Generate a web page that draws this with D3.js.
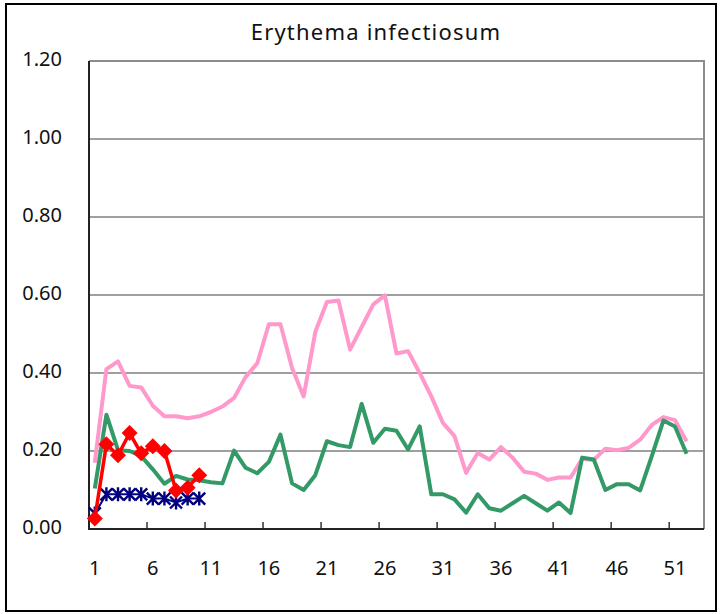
<!DOCTYPE html>
<html>
<head>
<meta charset="utf-8">
<script src="https://cdn.jsdelivr.net/npm/d3@7"></script>
<style>
  body { margin: 0; background: #fff; }
  svg { display: block; font-family: "Noto Sans", "DejaVu Sans", sans-serif; }
</style>
</head>
<body>
<div id="root"></div>
<script>
// weeks 1..53 on the category axis
const weeks = d3.range(1, 54);
const weekLabels = [1, 6, 11, 16, 21, 26, 31, 36, 41, 46, 51];
const yTicks = [0, 0.2, 0.4, 0.6, 0.8, 1.0, 1.2];

// series values (per week)
const pinkSeries = [0.17, 0.41, 0.43, 0.367, 0.363, 0.316, 0.289, 0.289, 0.284, 0.289,
  0.30, 0.314, 0.336, 0.39, 0.425, 0.525, 0.525, 0.413, 0.34, 0.505,
  0.582, 0.586, 0.46, 0.518, 0.576, 0.599, 0.45, 0.456, 0.40, 0.34,
  0.272, 0.238, 0.144, 0.195, 0.178, 0.21, 0.183, 0.147, 0.142, 0.126,
  0.132, 0.132, 0.18, 0.177, 0.206, 0.202, 0.208, 0.229, 0.267, 0.287,
  0.279, 0.225];
const greenSeries = [0.104, 0.293, 0.202, 0.20, 0.187, 0.153, 0.116, 0.136, 0.127, 0.125,
  0.12, 0.117, 0.201, 0.157, 0.143, 0.172, 0.242, 0.117, 0.10, 0.138,
  0.225, 0.215, 0.21, 0.321, 0.221, 0.257, 0.252, 0.204, 0.263, 0.089,
  0.089, 0.076, 0.042, 0.089, 0.053, 0.047, 0.066, 0.085, 0.066, 0.047,
  0.068, 0.041, 0.183, 0.178, 0.10, 0.115, 0.115, 0.099, 0.187, 0.278,
  0.263, 0.193];
const blueSeries = [0.04, 0.089, 0.089, 0.089, 0.089, 0.078, 0.078, 0.068, 0.078, 0.078];
const redSeries = [0.027, 0.217, 0.189, 0.246, 0.194, 0.212, 0.20, 0.099, 0.106, 0.138];

const W = 721, H = 614;
const margin = {top: 61, right: 17, bottom: 85, left: 89};
const width = W - margin.left - margin.right,
      height = H - margin.top - margin.bottom;

const svg = d3.select("#root").append("svg")
    .attr("width", W)
    .attr("height", H);

// outer frame
svg.append("rect")
    .attr("x", 6).attr("y", 4)
    .attr("width", 710).attr("height", 607)
    .attr("fill", "none")
    .attr("stroke", "#000")
    .attr("stroke-width", 2);

svg.append("text")
    .attr("x", 376).attr("y", 40)
    .attr("text-anchor", "middle")
    .attr("font-size", 22)
    .attr("letter-spacing", "1.2px")
    .attr("fill", "#111")
    .text("Erythema infectiosum");

const g = svg.append("g")
    .attr("transform", "translate(" + margin.left + "," + margin.top + ")");

const x = d3.scaleBand()
    .domain(weeks)
    .range([0, width])
    .padding(0);

const y = d3.scaleLinear()
    .domain([0, 1.2])
    .range([height, 0]);

// gridlines
g.selectAll(".grid")
    .data(yTicks.filter(d => d > 0 && d < 1.2))
    .enter()
    .append("line")
    .attr("x1", 0).attr("x2", width)
    .attr("y1", d => y(d)).attr("y2", d => y(d))
    .attr("stroke", "#7f7f7f")
    .attr("stroke-width", 1.5);

// plot border top/right (grey)
g.append("path")
    .attr("d", "M0," + y(1.2) + "H" + width + "V" + height)
    .attr("fill", "none")
    .attr("stroke", "#8c8c8c")
    .attr("stroke-width", 2);

// y axis labels
const yAxis = g.append("g")
    .call(d3.axisLeft(y).tickValues(yTicks).tickSize(0).tickPadding(27)
        .tickFormat(d3.format(".2f")))
    .attr("font-family", null);
yAxis.select(".domain").remove();
yAxis.selectAll("text")
    .attr("font-size", 20)
    .attr("dy", "0.2em")
    .attr("fill", "#111");

// x axis labels at category centres
const xAxis = g.append("g")
    .attr("transform", "translate(0," + height + ")")
    .call(d3.axisBottom(x).tickValues(weekLabels).tickSize(0).tickPadding(32))
    .attr("font-family", null);
xAxis.select(".domain").remove();
xAxis.selectAll("text")
    .attr("font-size", 20)
    .attr("fill", "#111");

// tick marks between categories, every 5 weeks
g.selectAll(".xtick")
    .data(weekLabels.slice(1))
    .enter()
    .append("line")
    .attr("x1", d => x(d)).attr("x2", d => x(d))
    .attr("y1", height).attr("y2", height - 7)
    .attr("stroke", "#333")
    .attr("stroke-width", 1.5);

// axis lines (left and bottom)
g.append("path")
    .attr("d", "M0," + y(1.2) + "V" + height + "H" + width)
    .attr("fill", "none")
    .attr("stroke", "#222")
    .attr("stroke-width", 2);

const cx = i => x(weeks[i]) + x.bandwidth() / 2;
const line = d3.line()
    .x((d, i) => cx(i))
    .y(d => y(d));

g.append("path")
    .datum(pinkSeries)
    .attr("d", line)
    .attr("fill", "none")
    .attr("stroke", "#ff99cc")
    .attr("stroke-width", 4)
    .attr("stroke-linejoin", "round");

g.append("path")
    .datum(greenSeries)
    .attr("d", line)
    .attr("fill", "none")
    .attr("stroke", "#339966")
    .attr("stroke-width", 4)
    .attr("stroke-linejoin", "round");

// blue asterisk series
g.append("path")
    .datum(blueSeries)
    .attr("d", line)
    .attr("fill", "none")
    .attr("stroke", "#000080")
    .attr("stroke-width", 2);

const star = g.selectAll(".star")
    .data(blueSeries)
    .enter()
    .append("g")
    .attr("transform", (d, i) => "translate(" + cx(i) + "," + y(d) + ")");
star.append("path")
    .attr("d", "M-6,-6L6,6M-6,6L6,-6M0,-7V7")
    .attr("stroke", "#000080")
    .attr("stroke-width", 2.4)
    .attr("fill", "none");

// red diamond series
g.append("path")
    .datum(redSeries)
    .attr("d", line)
    .attr("fill", "none")
    .attr("stroke", "#ff0000")
    .attr("stroke-width", 3.5)
    .attr("stroke-linejoin", "round");

g.selectAll(".diamond")
    .data(redSeries)
    .enter()
    .append("path")
    .attr("d", "M0,-8L8,0L0,8L-8,0Z")
    .attr("transform", (d, i) => "translate(" + cx(i) + "," + y(d) + ")")
    .attr("fill", "#ff0000");
</script>
</body>
</html>
